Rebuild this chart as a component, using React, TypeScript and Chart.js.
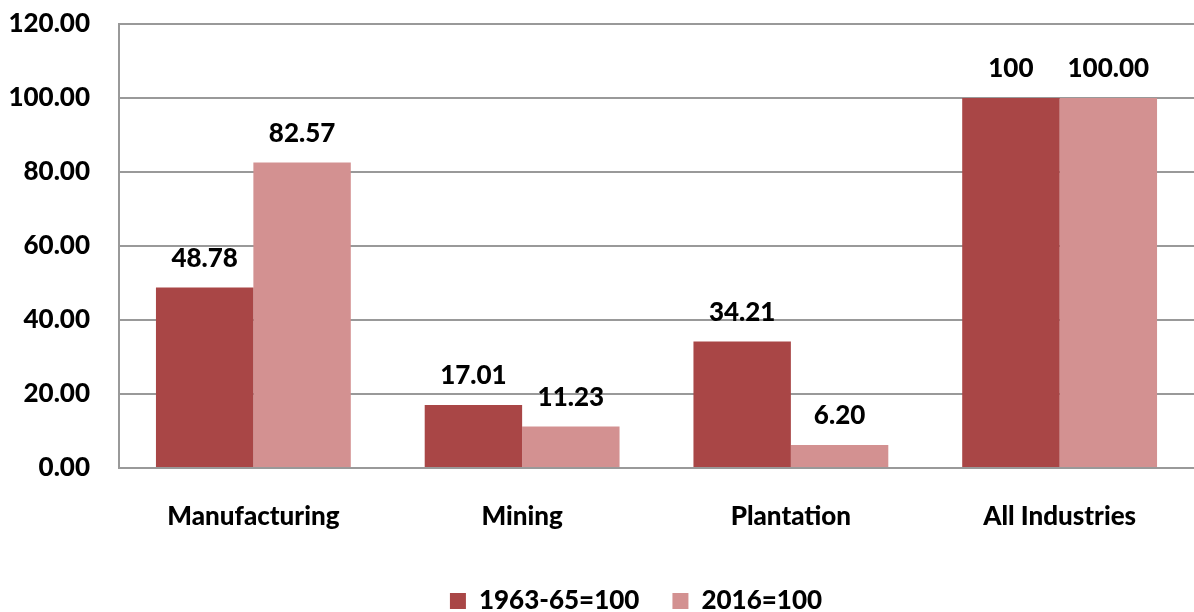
import React, { useEffect, useRef } from "react";
import { Chart, registerables } from "chart.js";

Chart.register(...registerables);

const categories = ["Manufacturing", "Mining", "Plantation", "All Industries"];
const seriesNames = ["1963-65=100", "2016=100"];
const series1 = [48.78, 17.01, 34.21, 100];
const series2 = [82.57, 11.23, 6.2, 100];
const labels1 = ["48.78", "17.01", "34.21", "100"];
const labels2 = ["82.57", "11.23", "6.20", "100.00"];
const colors = ["#A94646", "#D39191"];
const FONT = "Lato, 'Open Sans', sans-serif";
const FSIZE = 26;
const FWEIGHT = 900;

const valueLabels = {
  id: "valueLabels",
  afterLayout(chart: any) {
    const lg = chart.legend;
    if (lg) {
      const h = lg.bottom - lg.top;
      const top = lg.top + 12;
      lg.top = top;
      lg.bottom = top + h;
      lg.left += 39;
      lg.right += 39;
    }
  },
  afterDatasetsDraw(chart: any) {
    const ctx = chart.ctx;
    const texts = [labels1, labels2];
    ctx.save();
    ctx.font = `${FWEIGHT} ${FSIZE}px ${FONT}`;
    ctx.fillStyle = "#000";
    ctx.textAlign = "center";
    ctx.textBaseline = "middle";
    chart.data.datasets.forEach((_: any, di: number) => {
      const meta = chart.getDatasetMeta(di);
      meta.data.forEach((bar: any, i: number) => {
        ctx.fillText(texts[di][i], bar.x, bar.y - 29);
      });
    });
    ctx.restore();
  },
};

export default function App() {
  const ref = useRef<HTMLCanvasElement>(null);
  useEffect(() => {
    if (!ref.current) return;
    const font = { family: FONT, size: FSIZE, weight: FWEIGHT as any };
    const chart = new Chart(ref.current, {
      type: "bar",
      data: {
        labels: categories,
        datasets: [
          { label: seriesNames[0], data: series1, backgroundColor: colors[0] },
          { label: seriesNames[1], data: series2, backgroundColor: colors[1] },
        ],
      },
      options: {
        animation: false,
        responsive: false,
        maintainAspectRatio: false,
        layout: { padding: 0 },
        datasets: { bar: { categoryPercentage: 0.725, barPercentage: 1.0 } },
        plugins: {
          tooltip: { enabled: false },
          legend: {
            position: "bottom",
            labels: {
              boxWidth: 16,
              boxHeight: 16,
              padding: 33,
              color: "#000",
              font,
            },
          },
        },
        scales: {
          x: {
            grid: { display: false, drawTicks: false },
            border: { display: true, color: "#999", width: 2 },
            ticks: { color: "#000", padding: 33, font, maxRotation: 0 },
            afterFit(scale: any) {
              scale.height = 75;
            },
          },
          y: {
            min: 0,
            max: 120,
            grid: { color: "#999", lineWidth: 2, drawTicks: false },
            border: { display: true, color: "#999", width: 2 },
            ticks: {
              stepSize: 20,
              padding: 29,
              color: "#000",
              font,
              callback: (v: any) => Number(v).toFixed(2),
            },
            afterFit(scale: any) {
              scale.width = 119;
              scale.paddingTop = 24;
              scale.paddingBottom = 0;
            },
          },
        },
      },
      plugins: [valueLabels],
    });
    return () => chart.destroy();
  }, []);
  return (
    <div style={{ position: "fixed", left: 0, top: 0, width: 1194, height: 612, background: "#fff" }}>
      <canvas ref={ref} width={1194} height={612} style={{ width: 1194, height: 612, display: "block" }} />
    </div>
  );
}
